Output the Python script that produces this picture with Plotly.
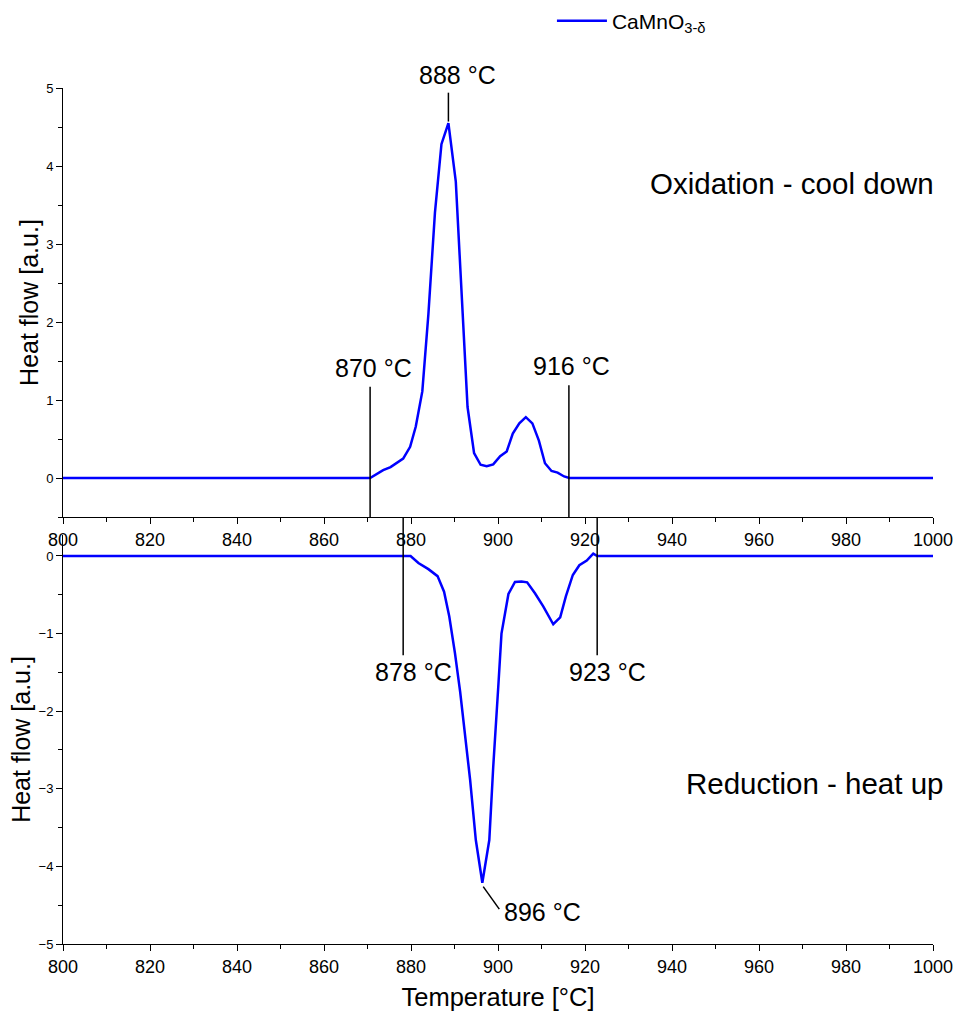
import plotly.graph_objects as go

# ---------------- data ----------------
temp_ox = [800, 870.6, 873.6, 875.3, 878.2, 879.8, 881.1, 882.6, 884.0, 885.5, 887.0,
           888.6, 890.3, 893.0, 894.5, 896.0, 897.4, 898.9, 900.5, 902.0, 903.4, 904.9,
           906.4, 907.9, 909.4, 910.8, 912.3, 913.7, 915.2, 916.4, 1000]
heat_ox = [0, 0, 0.10, 0.14, 0.25, 0.40, 0.66, 1.11, 2.10, 3.40, 4.28,
           4.55, 3.80, 0.91, 0.32, 0.17, 0.15, 0.175, 0.28, 0.34, 0.57, 0.70,
           0.78, 0.70, 0.48, 0.19, 0.09, 0.07, 0.02, 0, 0]

temp_red = [800, 878.2, 879.9, 881.7, 884.0, 886.1, 887.6, 888.8, 890.1, 891.3, 892.0,
            893.6, 894.9, 896.4, 898.0, 898.9, 900.1, 900.8, 902.4, 903.9, 905.4, 906.7,
            908.5, 910.4, 912.7, 914.3, 915.6, 917.2, 918.7, 920.4, 921.9, 922.8, 1000]
heat_red = [0, 0, 0, -0.09, -0.17, -0.26, -0.46, -0.78, -1.25, -1.75, -2.11,
            -2.89, -3.66, -4.21, -3.66, -2.72, -1.65, -1.0, -0.49, -0.335, -0.33, -0.34,
            -0.48, -0.65, -0.88, -0.79, -0.52, -0.245, -0.12, -0.06, 0.03, 0, 0]

series_name = "CaMnO<sub>3-δ</sub>"
x_ticks = [800, 820, 840, 860, 880, 900, 920, 940, 960, 980, 1000]

# marker lines (temperature, y start, y end) and labels
ox_onset = [(870.6, "870 °C"), (916.3, "916 °C")]
ox_onset_top = [1.17, 1.19]
ox_peak = (888.6, 4.57, 4.94, "888 °C")
red_onset = [(878.2, "878 °C"), (922.8, "923 °C")]
red_onset_bottom = -1.28
red_peak = (896.6, -4.26, 900.3, -4.55, "896 °C")

# ---------------- layout geometry ----------------
W, H = 957, 1011
ml, mr, mt, mb = 63, 24, 88, 67
dom1 = [0.4988, 1.0]
dom2 = [0.0, 0.4778]
xr = [800, 1000]
yr1 = [-0.5, 5]
yr2 = [-5, 0.27]

FONT = "Liberation Sans, Arial, sans-serif"
BLUE = "#0000FF"
LBL = 25

fig = go.Figure()
fig.add_trace(go.Scatter(x=temp_ox, y=heat_ox, mode="lines", name=series_name,
                         line=dict(color=BLUE, width=2.5), xaxis="x", yaxis="y"))
fig.add_trace(go.Scatter(x=temp_red, y=heat_red, mode="lines", name=series_name,
                         showlegend=False,
                         line=dict(color=BLUE, width=2.5), xaxis="x2", yaxis="y2"))

def xaxis_style(anchor):
    return dict(range=xr, anchor=anchor, domain=[0, 1], showline=True, linecolor="black",
                linewidth=1, ticks="outside", ticklen=6, tickcolor="black",
                tickvals=x_ticks, tickfont=dict(size=18, family=FONT, color="black"),
                minor=dict(dtick=10, ticks="outside", ticklen=4, tickcolor="black"),
                showgrid=False, zeroline=False, mirror=False, automargin=False)

def yaxis_style(anchor, rng, dom):
    return dict(range=rng, anchor=anchor, domain=dom, showline=True, linecolor="black",
                linewidth=1, ticks="outside", ticklen=6, tickcolor="black",
                dtick=1, tick0=0, tickfont=dict(size=13, family=FONT, color="black"),
                minor=dict(dtick=0.5, ticks="outside", ticklen=4, tickcolor="black"),
                showgrid=False, zeroline=False, automargin=False,
                title=dict(text="Heat flow [a.u.]", font=dict(size=25, family=FONT, color="black"),
                           standoff=0))

shapes = []
annotations = []
LW = 1.5

for (t, lab), top in zip(ox_onset, ox_onset_top):
    shapes.append(dict(type="line", xref="x", yref="y", x0=t, x1=t, y0=yr1[0], y1=top,
                       line=dict(color="black", width=LW)))
    annotations.append(dict(x=t, y=top, xref="x", yref="y", text=lab, showarrow=False,
                            xanchor="center", yanchor="bottom", yshift=3, xshift=3,
                            font=dict(size=LBL, family=FONT, color="black")))

t, y0, y1, lab = ox_peak
shapes.append(dict(type="line", xref="x", yref="y", x0=t, x1=t, y0=y0, y1=y1,
                   line=dict(color="black", width=LW)))
annotations.append(dict(x=t, y=y1, xref="x", yref="y", text=lab, showarrow=False,
                        xanchor="center", yanchor="bottom", yshift=2, xshift=9,
                        font=dict(size=LBL, family=FONT, color="black")))

def to_paper_x(v):
    return (v - xr[0]) / (xr[1] - xr[0])

def to_paper_y2(v):
    return dom2[0] + (v - yr2[0]) / (yr2[1] - yr2[0]) * (dom2[1] - dom2[0])

for t, lab in red_onset:
    px = to_paper_x(t)
    shapes.append(dict(type="line", xref="paper", yref="paper", x0=px, x1=px,
                       y0=to_paper_y2(red_onset_bottom), y1=dom1[0],
                       line=dict(color="black", width=LW)))
    annotations.append(dict(x=t, y=red_onset_bottom, xref="x2", yref="y2", text=lab,
                            showarrow=False, xanchor="center", yanchor="top", yshift=-1,
                            xshift=10, font=dict(size=LBL, family=FONT, color="black")))

t0, v0, t1, v1, lab = red_peak
shapes.append(dict(type="line", xref="x2", yref="y2", x0=t0, x1=t1, y0=v0, y1=v1,
                   line=dict(color="black", width=LW)))
annotations.append(dict(x=t1, y=v1, xref="x2", yref="y2", text=lab, showarrow=False,
                        xanchor="left", yanchor="middle", xshift=3, yshift=-3,
                        font=dict(size=LBL, family=FONT, color="black")))

annotations.append(dict(x=1.003, y=1 - (183 - mt) / (H - mt - mb), xref="paper", yref="paper",
                        text="Oxidation - cool down",
                        showarrow=False, xanchor="right", yanchor="middle",
                        font=dict(size=29.5, family=FONT, color="black")))
annotations.append(dict(x=1.014, y=1 - (783 - mt) / (H - mt - mb), xref="paper", yref="paper",
                        text="Reduction - heat up",
                        showarrow=False, xanchor="right", yanchor="middle",
                        font=dict(size=29.5, family=FONT, color="black")))

x2 = xaxis_style("y2")
x2["title"] = dict(text="Temperature [°C]", font=dict(size=25.5, family=FONT, color="black"),
                   standoff=15)

fig.update_layout(
    width=W, height=H,
    margin=dict(l=ml, r=mr, t=mt, b=mb, autoexpand=False),
    paper_bgcolor="white", plot_bgcolor="white",
    font=dict(family=FONT, color="black"),
    xaxis=xaxis_style("y"),
    yaxis=yaxis_style("x", yr1, dom1),
    xaxis2=x2,
    yaxis2=yaxis_style("x2", yr2, dom2),
    shapes=shapes,
    annotations=annotations,
    showlegend=True,
    legend=dict(x=0.562, y=1 + (mt - 21) / (H - mt - mb), xanchor="left", yanchor="middle",
                itemwidth=50,
                bgcolor="rgba(0,0,0,0)", font=dict(size=21, family=FONT, color="black")),
)

fig.write_html("out.html")
